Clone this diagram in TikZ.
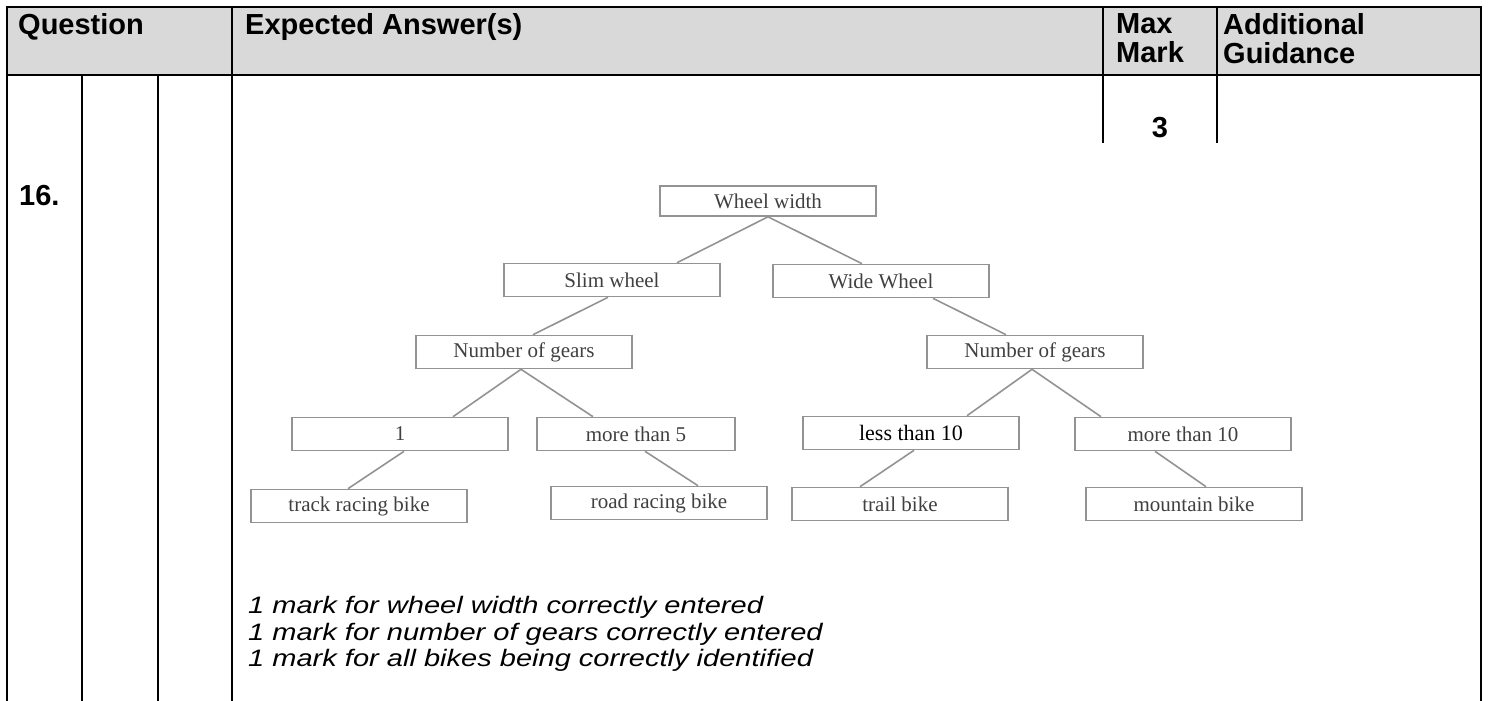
\documentclass[tikz,border=0pt]{standalone}
\usepackage{fontspec}
\setmainfont{Liberation Sans}
\newfontfamily\treefont{Liberation Serif}
\newfontfamily\notefont[FakeStretch=1.22]{Liberation Sans}
\usetikzlibrary{positioning}

\begin{document}
\begin{tikzpicture}[
  x=1pt,y=-1pt,
  rule/.style={line width=2.6pt},
  head/.style={font=\fontsize{29}{29}\selectfont\bfseries, anchor=base west, inner sep=0pt},
  leaf/.style={draw=gray!85, line width=1.6pt, minimum width=216pt, minimum height=33pt, font=\treefont\fontsize{21}{23}\selectfont, text=black!75, inner sep=0pt},
  link/.style={draw=gray!85, line width=1.6pt},
  note/.style={font=\notefont\fontsize{23.8}{26}\selectfont\itshape, anchor=base west, inner sep=0pt}
]
\useasboundingbox (0,0) rectangle (1489,701);
\fill[gray!30] (7,7) rectangle (1481,75);
\draw[rule] (7,701) -- (7,7) -- (1481,7) -- (1481,701);
\draw[rule] (7,75) -- (1481,75);
\draw[rule] (232,7) -- (232,701);
\draw[rule] (82,75) -- (82,701);
\draw[rule] (158,75) -- (158,701);
\draw[rule] (1103,7) -- (1103,143);
\draw[rule] (1217,7) -- (1217,143);
\node[head] (question) at (18,35) {Question};
\node[head] (expected) at (245,35) {Expected Answer(s)};
\node[head, anchor=north west, align=left] (maxmark) at (1116,13) {Max\\Mark};
\node[head, anchor=north west, align=left] (guidance) at (1223,13) {Additional\\Guidance};
\node[head] (qnum) at (19,205) {16.};
\node[head, anchor=base] (marks) at (1160,137) {3};
\node[leaf, minimum height=30pt] (ww) at (768,201) {Wheel width};
\node[leaf] (slim) at (612,280) {Slim wheel};
\node[leaf] (wide) at (881,281) {Wide Wheel};
\node[leaf] (gearsL) at (524,352) {Number of gears};
\node[leaf] (gearsR) at (1035,352) {Number of gears};
\node[leaf] (one) at (400,434) {1};
\node[leaf, minimum width=198pt] (more5) at (636,434) {more than 5};
\node[leaf, text=black, font=\treefont\fontsize{22}{24}\selectfont] (less10) at (911,433) {less than 10\hspace{10pt}};
\node[leaf] (more10) at (1183,434) {more than 10};
\node[leaf] (track) at (359,506) {track racing bike};
\node[leaf] (road) at (659,503) {road racing bike};
\node[leaf] (trail) at (900,504) {trail bike};
\node[leaf] (mtb) at (1194,504) {mountain bike};
\draw[link] (ww.south) -- ([xshift=65pt]slim.north);
\draw[link] (ww.south) -- ([xshift=-19pt]wide.north);
\draw[link] ([xshift=-4pt]slim.south) -- ([xshift=9pt]gearsL.north);
\draw[link] ([xshift=52pt]wide.south) -- ([xshift=-29pt]gearsR.north);
\draw[link] ([xshift=-3pt]gearsL.south) -- ([xshift=53pt]one.north);
\draw[link] ([xshift=-3pt]gearsL.south) -- ([xshift=-43pt]more5.north);
\draw[link] ([xshift=-3pt]gearsR.south) -- ([xshift=56pt]less10.north);
\draw[link] ([xshift=-3pt]gearsR.south) -- ([xshift=-82pt]more10.north);
\draw[link] ([xshift=4pt]one.south) -- ([xshift=-11pt]track.north);
\draw[link] ([xshift=9pt]more5.south) -- ([xshift=39pt]road.north);
\draw[link] ([xshift=3pt]less10.south) -- ([xshift=-40pt]trail.north);
\draw[link] ([xshift=-28pt]more10.south) -- ([xshift=12pt]mtb.north);
\node[note] (mark1) at (248,613) {1 mark for wheel width correctly entered};
\node[note] (mark2) at (248,640) {1 mark for number of gears correctly entered};
\node[note] (mark3) at (248,666) {1 mark for all bikes being correctly identified};
\end{tikzpicture}
\end{document}
